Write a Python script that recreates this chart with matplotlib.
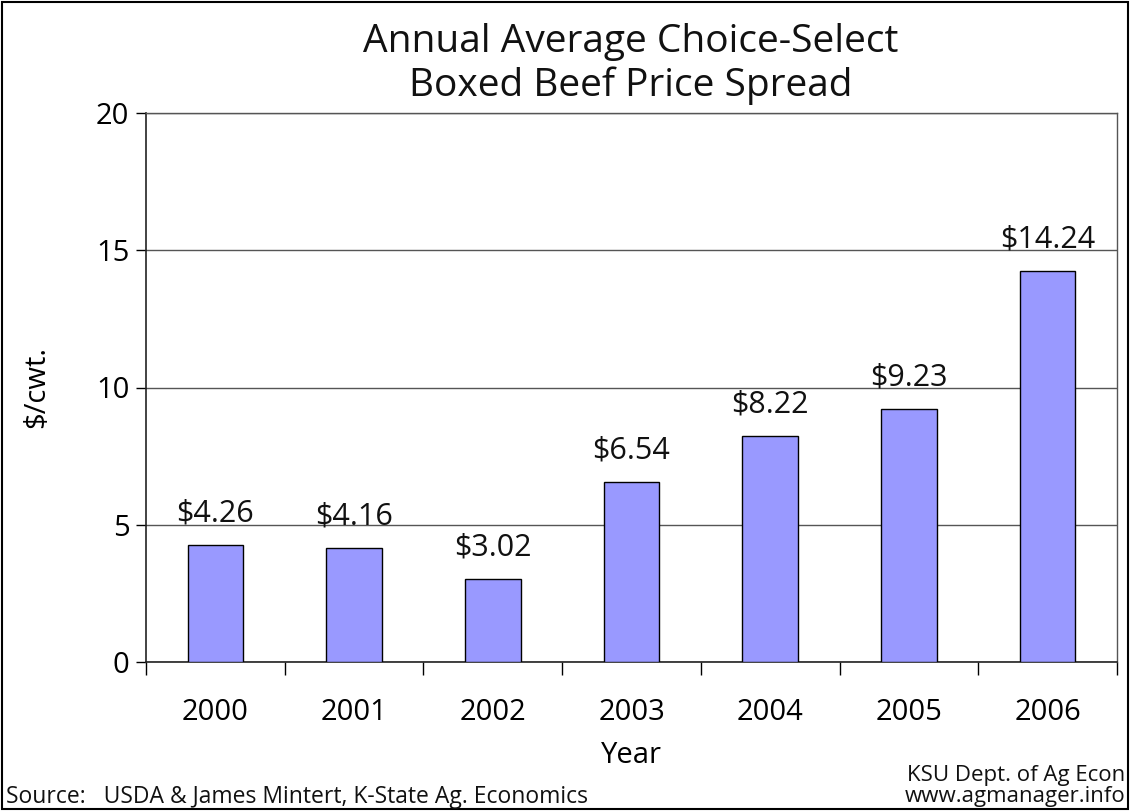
import matplotlib

matplotlib.use("Agg")
import matplotlib.pyplot as plt
from matplotlib.patches import Rectangle

years = ["2000", "2001", "2002", "2003", "2004", "2005", "2006"]
spread = [4.26, 4.16, 3.02, 6.54, 8.22, 9.23, 14.24]
labels = ["$4.26", "$4.16", "$3.02", "$6.54", "$8.22", "$9.23", "$14.24"]
yticks = [0, 5, 10, 15, 20]

plt.rcParams["font.family"] = ["Open Sans", "DejaVu Sans"]

fig = plt.figure(figsize=(11.31, 8.11), dpi=100)
ax = fig.add_axes([146 / 1131, 1 - 662 / 811, (1117 - 146) / 1131, (662 - 113) / 811])

x = list(range(len(years)))
ax.bar(x, spread, width=0.4, color="#9999FF", edgecolor="black", linewidth=1.0, zorder=3)
for xi, v, lab in zip(x, spread, labels):
    ax.annotate(lab, (xi, v), xytext=(0, 17), textcoords="offset points",
                ha="center", va="baseline", fontsize=22, color="#111111", zorder=4)

ax.set_xlim(-0.5, len(years) - 0.5)
ax.set_ylim(0, 20)
ax.set_yticks(yticks)
ax.tick_params(axis="y", labelsize=21, length=7, width=1, direction="out", pad=5)
ax.set_xticks(x)
ax.set_xticklabels(years)
ax.tick_params(axis="x", which="major", length=0, labelsize=21, pad=26)
ax.set_xticks([i - 0.5 for i in range(len(years) + 1)], minor=True)
ax.tick_params(axis="x", which="minor", length=9, width=1, direction="out")
ax.yaxis.grid(True, color="#555555", linewidth=1, zorder=0)

for side in ["top", "right"]:
    ax.spines[side].set_color("#555555")
    ax.spines[side].set_linewidth(1)
for side in ["left", "bottom"]:
    ax.spines[side].set_color("#222222")
    ax.spines[side].set_linewidth(1.2)

ax.set_ylabel("$/cwt.", fontsize=21, labelpad=32)
ax.set_xlabel("Year", fontsize=21, labelpad=10)

fig.text(631 / 1131, 1 - 64 / 811, "Annual Average Choice-Select\nBoxed Beef Price Spread",
         ha="center", va="center", fontsize=28, linespacing=1.2, color="#111111")
fig.text(6 / 1131, 1 - 797 / 811, "Source:   USDA & James Mintert, K-State Ag. Economics",
         ha="left", va="center", fontsize=16.5, color="#111111")
fig.text(1125 / 1131, 1 - 786 / 811, "KSU Dept. of Ag Econ\nwww.agmanager.info",
         ha="right", va="center", fontsize=16, linespacing=1.05, color="#111111")

fig.patches.append(Rectangle((2 / 1131, 2 / 811), 1126 / 1131, 807 / 811,
                             transform=fig.transFigure, fill=False,
                             edgecolor="black", linewidth=1.5))

fig.savefig("out.png", dpi=100)
